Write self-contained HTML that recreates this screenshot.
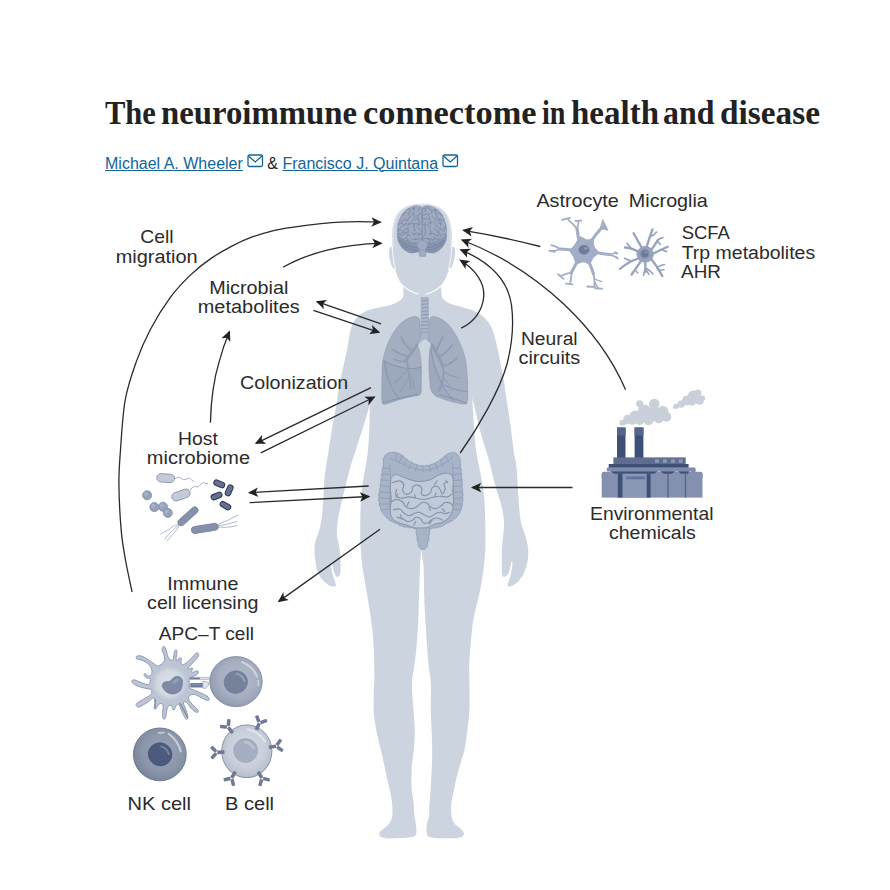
<!DOCTYPE html>
<html>
<head>
<meta charset="utf-8">
<title>The neuroimmune connectome in health and disease</title>
<style>
html,body{margin:0;padding:0;background:#fff;}
body{width:890px;height:890px;position:relative;overflow:hidden;font-family:"Liberation Sans",sans-serif;}
h1{position:absolute;left:105px;top:91.7px;margin:0;font-family:"Liberation Serif",serif;font-weight:bold;font-size:34.5px;line-height:40px;color:#222;white-space:nowrap;width:720px;height:40px;}
h1 span{position:absolute;top:0;transform-origin:0 0;}
.authors{position:absolute;left:105px;top:153.5px;margin:0;font-size:16px;line-height:20px;color:#222;white-space:nowrap;}
.authors a{color:#12659a;text-decoration:underline;text-underline-offset:1px;text-decoration-thickness:1px;}
.authors svg{vertical-align:1px;margin-left:4px;margin-right:-1px;}
svg.fig{position:absolute;left:0;top:0;}
svg.fig text{font-family:"Liberation Sans",sans-serif;font-size:19px;fill:#2b2b2b;}
.arr{fill:none;stroke:#2a2a2a;stroke-width:1.3;}
</style>
</head>
<body>
<h1 id="ttl"><span style="left:-0.3px;transform:scaleX(0.8850)">The</span> <span style="left:56.2px;transform:scaleX(0.9502)">neuroimmune</span> <span style="left:257.9px;transform:scaleX(0.9951)">connectome</span> <span style="left:436.6px;transform:scaleX(0.8165)">in</span> <span style="left:466.1px;transform:scaleX(0.9564)">health</span> <span style="left:558.4px;transform:scaleX(0.9238)">and</span> <span style="left:615.4px;transform:scaleX(0.9662)">disease</span></h1>
<p class="authors"><a>Michael A. Wheeler</a><svg width="17" height="14" viewBox="0 0 17 14"><rect x="1" y="1" width="14.5" height="11.5" rx="1.5" fill="none" stroke="#12659a" stroke-width="1.3"/><path d="M1.5 2 L8.25 8 L15 2" fill="none" stroke="#12659a" stroke-width="1.3"/></svg> &amp; <a>Francisco J. Quintana</a><svg width="17" height="14" viewBox="0 0 17 14"><rect x="1" y="1" width="14.5" height="11.5" rx="1.5" fill="none" stroke="#12659a" stroke-width="1.3"/><path d="M1.5 2 L8.25 8 L15 2" fill="none" stroke="#12659a" stroke-width="1.3"/></svg></p>

<svg class="fig" width="890" height="890" viewBox="0 0 890 890">
<defs>
<marker id="ah" viewBox="-10 -5 11 10" refX="-1" refY="0" markerWidth="11" markerHeight="10" markerUnits="userSpaceOnUse" orient="auto">
<path d="M0.3 0 L-10 -4.8 L-7.4 0 L-10 4.8 Z" fill="#222"/>
</marker>
<radialGradient id="gT" cx="0.55" cy="0.45" r="0.6"><stop offset="0" stop-color="#b3bbca"/><stop offset="0.6" stop-color="#a6afc0"/><stop offset="0.85" stop-color="#98a2b5"/><stop offset="1" stop-color="#8791a7"/></radialGradient>
<radialGradient id="gNK" cx="0.55" cy="0.45" r="0.6"><stop offset="0" stop-color="#99a3b6"/><stop offset="0.6" stop-color="#8d97ab"/><stop offset="0.85" stop-color="#808aa0"/><stop offset="1" stop-color="#727c93"/></radialGradient>
<radialGradient id="gB" cx="0.5" cy="0.45" r="0.6"><stop offset="0" stop-color="#d6dbe4"/><stop offset="0.6" stop-color="#c9cfda"/><stop offset="0.85" stop-color="#bac2cf"/><stop offset="1" stop-color="#a9b1c1"/></radialGradient>
<radialGradient id="gA" cx="0.5" cy="0.45" r="0.6"><stop offset="0" stop-color="#dde2ea"/><stop offset="0.7" stop-color="#c9d1dd"/><stop offset="1" stop-color="#b4bece"/></radialGradient>
<radialGradient id="gA2" cx="0.5" cy="0.5" r="0.5"><stop offset="0" stop-color="#dce1e9"/><stop offset="0.7" stop-color="#d3d9e3"/><stop offset="1" stop-color="#bcc5d3"/></radialGradient>
</defs>

<!-- BODY -->
<g id="body"><path id="bodyp" d="M421.9 203.7
C412 203.5 403 206.5 398.4 212.3 C394.5 217 392.2 226 392.2 235.8 L392.5 246.9
C391 246.5 389.8 247 389.3 249 C388.5 252 389.2 259 391 264.2 C392 267 393.5 268.8 394.7 268.5
C395.5 271 396 273 396.6 274.1 C398 278 399.5 281 400.9 282.8 L403.4 285.9
L403.4 291.4 C403.4 295 403.4 296.5 402.8 297.6 C400 301.5 394 304.5 388.5 305.6
L374.6 308.4 C369 309.6 365 311 361.7 313.6 C357 317 354 320.5 352.6 323.9 C350.5 328.5 349.5 334 348.8 339.4
C347.5 348 345.5 357 343.6 365.3 L339.7 382.7
C338.8 388 338 394 337.2 400 C336 407 334.8 414 333.5 420 C331.5 431 330 442 328.7 450 C327.6 458 326.8 462 326.3 464.9 C325.5 470 324.7 475 324.3 480
C323.8 492 323.2 503 322.2 513.7 C321.6 520 320.5 526 318.9 531.2 L315.5 540.6
C314.3 545 314.3 550 314.8 555.5 C315.2 560 315.8 565 316.8 569 C318.5 574.5 320.5 578 323.6 581
C326.5 584 329.5 586 332.3 586.5 C335.3 587 336.5 585.8 335.7 583.8 C335 581.5 334 578.5 333 575.7
C332 572.5 331.3 569.5 331 566.3 L331.7 560.9
C332.5 566 333.5 571 335 574.3 C336 576.5 337.4 577.3 338.4 576.8 C339.8 576 340.3 574 340.4 571.6
C340.8 564 340.6 557 339.8 550 C339.2 545 338 541 337 536.6
C336.5 529 337.5 521 339.1 513.7 C340.5 507 342 500 343.5 494 L346.5 482
C349 471 352 461 355.5 451 C360 437 365.5 420 369.6 405
C369.9 420 369.3 435 368 450 C366.5 463 364.5 472 363.3 480
C361.5 490 360.8 499 360.6 507 C360.3 516 360.1 525 360.2 534 C360.2 539 360.4 544 360.7 549
C361 555 361.7 561 362.5 567 C363.7 576 365.3 585 367 594 C369 606 371 618 372.4 630
C373.5 642 374.2 654 374.2 666 L374.4 677.6
C373.8 690 373.3 702 373.8 712.7 C374.8 726 378 739 381 750.7 C383.5 761 385.5 771 387.3 780 C388.5 785 389.5 789 390.4 792.4
C391.3 797 392 801 392.2 804.7 C392.5 809 392.6 813 392.2 817.1 C391.5 820 390 822.5 388.5 824.5 C386 827.5 383 829 381.1 830.7 C379.5 832 379 833.3 379.3 834.4 C379.8 836 380.8 837 382.4 837.5 C386 838.6 391 838.5 394.7 838.3
C401 838.2 407 838 412 837.1 C414.5 836.5 416.2 835 416.4 833.2 C416.6 830 416.2 826.5 415.7 823.3 C415.2 819 414.3 815 413.9 810.9 L413.9 804.7
C413.5 800.5 412.6 796.5 412 792.4 C411.6 788 411.4 784 411.4 780 C411.4 775 411.6 770 411.8 765.3 C413.3 755 414.5 745 414.7 736
C414.8 726 414 716 413.3 706.9 C412.5 698 411.9 691 411.9 682 C412.3 677 413 673 413.7 669.4
C415 662 415.8 655 416.4 648 C417.2 639 417.8 630 418.2 621 C418.6 612 418.9 603 419.1 594
C419.4 585 419.7 576 420 567 C420.3 560 420.8 554 421.3 549.5
C421.8 554 422.9 560 423.6 567 C423.9 576 424 585 424.1 594 C424.4 603 424.9 612 425.4 621
C425.9 630 426.5 639 427.2 648 C427.7 655 428.3 662 429 669.4 C429.8 673 430.5 677 430.8 682
C431.3 691 430.6 702 430.8 712.7 C431.3 726 432.3 740 432.2 753.6 C432.1 762 431.7 771 431.2 780 C430.9 786 430.4 792 430 798.5
C429.7 802 429.3 805 429.1 808.4 L429.3 814.6 C428.8 817.5 427.8 820.5 427.1 823.3 C426.5 826 426.3 829 426.6 831.9 C426.8 834.5 427.8 836 429.3 836.9
C433 838 439 838.3 444.2 838.3 C450 838.4 456 838.2 460.2 837.5 C462.8 836.8 464 835.5 463.9 833.8 C463.8 832 462.8 830.5 461.5 829.4
C459.5 827.5 457 826 455.3 824.5 C453.5 822.5 452.2 820 451.6 817.1 C451 813 451 809 451.3 804.7 C451.8 799.5 452.8 794.5 454 789.9 L455.9 780 C458.5 770 461.5 760 464.4 750.7
C466.5 737 469 722 469.6 706.9 C469.8 693 469.2 680 469.1 665.8 C469.3 660 469.7 654 470.3 648
C471 639 472 630 473 621 C474.8 612 477 603 479.3 594 C481.2 585 482.7 576 483.8 567
C484.5 561 485 555 485.3 549 C485.5 542 485.5 534 485.3 527.2
C485.2 518 485 509 484.4 500.2 C483.8 493 482.7 486 481.7 480
C480 470 477.5 460 476 450 C474.5 435 473 415 472.3 398
L474 404 C476.5 416 481 436 486 450 C489 460 491.5 470 493.8 480
C495.5 487 498 494 499.9 500.2 C502 507 503.5 514 503.9 520.4 C504.3 527 503.5 534 502.6 540.6
C501.8 547 501.7 554 501.9 560.9 L501.9 573 C502 575.5 503 577.3 504.6 576.8 C506.5 576.2 507.8 575 508.6 573
C510 569.5 510.8 566 511.3 562.2 L512.5 560.9 C512.5 566 511.5 572 510 577 C509.3 579.5 508.5 581.5 508 583.8
C507.4 586 508.3 587.2 510 586.5 C513 585.8 516 584 518.7 581 C522 577.5 524.5 573 526.1 567.6
C527.8 562 528.6 556 528.2 550.1 C527.9 546 527.2 542 526.1 538 L521.4 524.5
C519.8 517 519.2 508 518.7 500.2 C518.2 493 517.8 487 517.4 480
C517 470 516.3 462 514 454.2 C512.5 440 510 420 506.6 400.2 C505.6 394 504.9 388 504.3 382.7 L500.6 364.2
C499.5 358 498.3 351.5 496.9 345.6 C495.8 340.5 494.6 336 493.2 332 C491.8 328 490.2 325 488.2 322.1 C486.2 319.3 483.8 317 480.8 314.7
C478 312.6 474.5 311 470.9 309.8 L456.5 305.6 C450 304.2 444.5 301.5 442.3 297.6
C441.6 296.5 441.4 295 441.4 291.4 L441 285.9 L442.9 282.8
C444.3 281 446 278 447.3 274.1 C448 273 448.5 271 449.1 268.5 C450.5 268.8 451.8 267 452.8 264.2
C454.8 259 455.6 252 454.8 249 C454.3 247 453 246.5 451.6 246.9 L451.8 235.8
C451.8 226 449.5 217 445.4 212.3 C441 206.5 432 203.5 421.9 203.7 Z" fill="#ccd5df"/></g>
<clipPath id="bclip"><path d="M421.9 203.7
C412 203.5 403 206.5 398.4 212.3 C394.5 217 392.2 226 392.2 235.8 L392.5 246.9
C391 246.5 389.8 247 389.3 249 C388.5 252 389.2 259 391 264.2 C392 267 393.5 268.8 394.7 268.5
C395.5 271 396 273 396.6 274.1 C398 278 399.5 281 400.9 282.8 L403.4 285.9
L403.4 291.4 C403.4 295 403.4 296.5 402.8 297.6 C400 301.5 394 304.5 388.5 305.6
L374.6 308.4 C369 309.6 365 311 361.7 313.6 C357 317 354 320.5 352.6 323.9 C350.5 328.5 349.5 334 348.8 339.4
C347.5 348 345.5 357 343.6 365.3 L339.7 382.7
C338.8 388 338 394 337.2 400 C336 407 334.8 414 333.5 420 C331.5 431 330 442 328.7 450 C327.6 458 326.8 462 326.3 464.9 C325.5 470 324.7 475 324.3 480
C323.8 492 323.2 503 322.2 513.7 C321.6 520 320.5 526 318.9 531.2 L315.5 540.6
C314.3 545 314.3 550 314.8 555.5 C315.2 560 315.8 565 316.8 569 C318.5 574.5 320.5 578 323.6 581
C326.5 584 329.5 586 332.3 586.5 C335.3 587 336.5 585.8 335.7 583.8 C335 581.5 334 578.5 333 575.7
C332 572.5 331.3 569.5 331 566.3 L331.7 560.9
C332.5 566 333.5 571 335 574.3 C336 576.5 337.4 577.3 338.4 576.8 C339.8 576 340.3 574 340.4 571.6
C340.8 564 340.6 557 339.8 550 C339.2 545 338 541 337 536.6
C336.5 529 337.5 521 339.1 513.7 C340.5 507 342 500 343.5 494 L346.5 482
C349 471 352 461 355.5 451 C360 437 365.5 420 369.6 405
C369.9 420 369.3 435 368 450 C366.5 463 364.5 472 363.3 480
C361.5 490 360.8 499 360.6 507 C360.3 516 360.1 525 360.2 534 C360.2 539 360.4 544 360.7 549
C361 555 361.7 561 362.5 567 C363.7 576 365.3 585 367 594 C369 606 371 618 372.4 630
C373.5 642 374.2 654 374.2 666 L374.4 677.6
C373.8 690 373.3 702 373.8 712.7 C374.8 726 378 739 381 750.7 C383.5 761 385.5 771 387.3 780 C388.5 785 389.5 789 390.4 792.4
C391.3 797 392 801 392.2 804.7 C392.5 809 392.6 813 392.2 817.1 C391.5 820 390 822.5 388.5 824.5 C386 827.5 383 829 381.1 830.7 C379.5 832 379 833.3 379.3 834.4 C379.8 836 380.8 837 382.4 837.5 C386 838.6 391 838.5 394.7 838.3
C401 838.2 407 838 412 837.1 C414.5 836.5 416.2 835 416.4 833.2 C416.6 830 416.2 826.5 415.7 823.3 C415.2 819 414.3 815 413.9 810.9 L413.9 804.7
C413.5 800.5 412.6 796.5 412 792.4 C411.6 788 411.4 784 411.4 780 C411.4 775 411.6 770 411.8 765.3 C413.3 755 414.5 745 414.7 736
C414.8 726 414 716 413.3 706.9 C412.5 698 411.9 691 411.9 682 C412.3 677 413 673 413.7 669.4
C415 662 415.8 655 416.4 648 C417.2 639 417.8 630 418.2 621 C418.6 612 418.9 603 419.1 594
C419.4 585 419.7 576 420 567 C420.3 560 420.8 554 421.3 549.5
C421.8 554 422.9 560 423.6 567 C423.9 576 424 585 424.1 594 C424.4 603 424.9 612 425.4 621
C425.9 630 426.5 639 427.2 648 C427.7 655 428.3 662 429 669.4 C429.8 673 430.5 677 430.8 682
C431.3 691 430.6 702 430.8 712.7 C431.3 726 432.3 740 432.2 753.6 C432.1 762 431.7 771 431.2 780 C430.9 786 430.4 792 430 798.5
C429.7 802 429.3 805 429.1 808.4 L429.3 814.6 C428.8 817.5 427.8 820.5 427.1 823.3 C426.5 826 426.3 829 426.6 831.9 C426.8 834.5 427.8 836 429.3 836.9
C433 838 439 838.3 444.2 838.3 C450 838.4 456 838.2 460.2 837.5 C462.8 836.8 464 835.5 463.9 833.8 C463.8 832 462.8 830.5 461.5 829.4
C459.5 827.5 457 826 455.3 824.5 C453.5 822.5 452.2 820 451.6 817.1 C451 813 451 809 451.3 804.7 C451.8 799.5 452.8 794.5 454 789.9 L455.9 780 C458.5 770 461.5 760 464.4 750.7
C466.5 737 469 722 469.6 706.9 C469.8 693 469.2 680 469.1 665.8 C469.3 660 469.7 654 470.3 648
C471 639 472 630 473 621 C474.8 612 477 603 479.3 594 C481.2 585 482.7 576 483.8 567
C484.5 561 485 555 485.3 549 C485.5 542 485.5 534 485.3 527.2
C485.2 518 485 509 484.4 500.2 C483.8 493 482.7 486 481.7 480
C480 470 477.5 460 476 450 C474.5 435 473 415 472.3 398
L474 404 C476.5 416 481 436 486 450 C489 460 491.5 470 493.8 480
C495.5 487 498 494 499.9 500.2 C502 507 503.5 514 503.9 520.4 C504.3 527 503.5 534 502.6 540.6
C501.8 547 501.7 554 501.9 560.9 L501.9 573 C502 575.5 503 577.3 504.6 576.8 C506.5 576.2 507.8 575 508.6 573
C510 569.5 510.8 566 511.3 562.2 L512.5 560.9 C512.5 566 511.5 572 510 577 C509.3 579.5 508.5 581.5 508 583.8
C507.4 586 508.3 587.2 510 586.5 C513 585.8 516 584 518.7 581 C522 577.5 524.5 573 526.1 567.6
C527.8 562 528.6 556 528.2 550.1 C527.9 546 527.2 542 526.1 538 L521.4 524.5
C519.8 517 519.2 508 518.7 500.2 C518.2 493 517.8 487 517.4 480
C517 470 516.3 462 514 454.2 C512.5 440 510 420 506.6 400.2 C505.6 394 504.9 388 504.3 382.7 L500.6 364.2
C499.5 358 498.3 351.5 496.9 345.6 C495.8 340.5 494.6 336 493.2 332 C491.8 328 490.2 325 488.2 322.1 C486.2 319.3 483.8 317 480.8 314.7
C478 312.6 474.5 311 470.9 309.8 L456.5 305.6 C450 304.2 444.5 301.5 442.3 297.6
C441.6 296.5 441.4 295 441.4 291.4 L441 285.9 L442.9 282.8
C444.3 281 446 278 447.3 274.1 C448 273 448.5 271 449.1 268.5 C450.5 268.8 451.8 267 452.8 264.2
C454.8 259 455.6 252 454.8 249 C454.3 247 453 246.5 451.6 246.9 L451.8 235.8
C451.8 226 449.5 217 445.4 212.3 C441 206.5 432 203.5 421.9 203.7 Z"/></clipPath>
<g clip-path="url(#bclip)" fill="none" stroke="#e0e5ec" stroke-width="3"><path d="M392.5 247 L392.2 235.8 C392.2 226 394.5 217 398.4 212.3 C403 206.5 412 203.5 421.9 203.7 C432 203.5 441 206.5 445.4 212.3 C449.5 217 451.8 226 451.8 235.8 L451.6 247" opacity="0.75"/></g>
<!-- chin line -->
<path d="M403.2 285.6 C407 289.5 412 292.6 418.2 294" fill="none" stroke="#fff" stroke-width="1.1" stroke-linecap="round"/>
<path d="M441.2 285.6 C437.5 289.5 432 292.6 425.8 294" fill="none" stroke="#fff" stroke-width="1.1" stroke-linecap="round"/>

<path d="M392.3 246.5 C392.6 255 393.6 263 395.6 269" fill="none" stroke="#fff" stroke-width="0.9" stroke-linecap="round" opacity="0.9"/>
<path d="M451.7 246.5 C451.4 255 450.4 263 448.4 269" fill="none" stroke="#fff" stroke-width="0.9" stroke-linecap="round" opacity="0.9"/>
<!-- ORGANS -->
<g id="organs">
<g id="brain">
<!-- cerebellum -->
<path d="M397.3 234 C396.8 238 397.5 242 400.2 245.5 C402 248.5 405 251 408 252.5 C411 253.8 415 253.6 418.5 252 L425.5 252 C429 253.6 433 253.8 436 252.5 C439 251 442 248.5 443.8 245.5 C446.5 242 447.2 238 446.7 234 Z" fill="#8794ae"/>
<path d="M399 240 C405 245 412 247.5 419 248 M400.5 243.5 C405 247.5 411 250 418 250.5 M445 240 C439 245 432 247.5 425 248 M443.5 243.5 C439 247.5 433 250 426 250.5" fill="none" stroke="#6f7f9c" stroke-width="0.7"/>
<!-- cerebrum -->
<path d="M422 208 C420.5 206 417.5 205.4 414.5 206 C409.5 207 404.5 210.5 401.5 215.5 C398.8 220 397.4 226 397.3 231.5 C397.3 234 398.3 236 400.5 237.8 C405 241 411 242.6 416 242.8 C419 242.8 421 242.4 422 241.6 C423 242.4 425 242.8 428 242.8 C433 242.6 439 241 443.5 237.8 C445.7 236 446.7 234 446.7 231.5 C446.6 226 445.2 220 442.5 215.5 C439.5 210.5 434.5 207 429.5 206 C426.5 205.4 423.5 206 422 208 Z" fill="#9eaabf" stroke="#8492ac" stroke-width="0.6"/>
<!-- sulci -->
<clipPath id="cbr"><path d="M422 208 C420.5 206 417.5 205.4 414.5 206 C409.5 207 404.5 210.5 401.5 215.5 C398.8 220 397.4 226 397.3 231.5 C397.3 234 398.3 236 400.5 237.8 C405 241 411 242.6 416 242.8 C419 242.8 421 242.4 422 241.6 C423 242.4 425 242.8 428 242.8 C433 242.6 439 241 443.5 237.8 C445.7 236 446.7 234 446.7 231.5 C446.6 226 445.2 220 442.5 215.5 C439.5 210.5 434.5 207 429.5 206 C426.5 205.4 423.5 206 422 208 Z"/></clipPath>
<g clip-path="url(#cbr)" fill="none" stroke="#7f8da8" stroke-width="1" stroke-linecap="round" stroke-linejoin="round">
<path d="M422 207 L422.3 243" stroke-width="1.1"/>
<path d="M420.1 206.8 C418.6 207.3 419.6 210.4 418.0 210.8"/>
<path d="M414.1 206.4 C412.9 207.5 415.1 209.8 414.0 210.9"/>
<path d="M414.0 208.6 L412.2 208.6"/>
<path d="M408.7 205.4 C407.5 207.4 411.5 209.9 410.3 211.9"/>
<path d="M409.5 208.7 L406.9 209.3"/>
<path d="M407.2 209.3 C405.5 208.0 403.0 211.5 401.3 210.2"/>
<path d="M404.2 209.8 L403.8 207.4"/>
<path d="M400.4 207.5 C398.7 206.9 397.4 210.3 395.7 209.7"/>
<path d="M398.0 208.6 L397.1 206.7"/>
<path d="M421.5 212.8 C419.8 212.4 419.1 215.8 417.4 215.5"/>
<path d="M413.9 212.0 C412.6 212.9 414.5 215.5 413.2 216.5"/>
<path d="M413.6 214.2 L411.8 214.0"/>
<path d="M408.7 212.3 C407.7 213.9 410.9 215.8 409.9 217.4"/>
<path d="M406.4 212.2 C404.2 211.9 403.6 216.3 401.3 216.0"/>
<path d="M403.9 214.1 L402.3 212.1"/>
<path d="M401.7 213.3 C399.6 212.4 397.8 216.7 395.7 215.8"/>
<path d="M398.7 214.6 L397.7 212.2"/>
<path d="M417.2 215.6 C416.0 217.6 420.0 219.9 418.9 221.9"/>
<path d="M418.0 218.7 L415.5 219.4"/>
<path d="M415.5 215.8 C413.2 216.3 414.4 220.8 412.2 221.4"/>
<path d="M409.9 216.6 C407.8 217.0 408.6 221.2 406.5 221.6"/>
<path d="M406.7 219.7 C405.0 218.5 402.7 221.8 401.0 220.7"/>
<path d="M401.1 216.7 C398.7 217.5 400.3 222.3 397.9 223.1"/>
<path d="M420.3 222.3 C418.7 222.7 419.5 225.8 418.0 226.2"/>
<path d="M419.1 224.3 L417.6 223.4"/>
<path d="M411.1 223.1 C412.4 225.0 416.2 222.4 417.6 224.3"/>
<path d="M414.3 223.7 L413.8 226.3"/>
<path d="M411.3 223.4 C409.8 222.8 408.6 225.8 407.1 225.2"/>
<path d="M409.2 224.3 L408.5 222.6"/>
<path d="M406.6 223.4 C404.2 222.9 403.2 227.6 400.8 227.1"/>
<path d="M403.7 225.3 L402.3 223.0"/>
<path d="M402.2 223.0 C400.0 221.9 397.9 226.5 395.6 225.5"/>
<path d="M398.9 224.2 L397.9 221.6"/>
<path d="M417.2 227.0 C417.3 229.1 421.4 228.9 421.5 230.9"/>
<path d="M413.5 225.9 C412.5 227.5 415.8 229.5 414.9 231.1"/>
<path d="M408.2 226.8 C406.6 228.3 409.5 231.5 407.9 232.9"/>
<path d="M407.2 228.1 C404.7 227.9 404.3 232.7 401.9 232.5"/>
<path d="M396.0 228.3 C397.0 230.3 400.9 228.3 401.9 230.3"/>
<path d="M399.0 229.3 L398.2 231.6"/>
<path d="M417.2 232.6 C417.7 234.4 421.3 233.4 421.8 235.2"/>
<path d="M419.5 233.9 L418.4 235.8"/>
<path d="M412.0 233.0 C412.9 234.7 416.3 232.9 417.2 234.7"/>
<path d="M414.6 233.8 L413.9 235.9"/>
<path d="M405.9 233.6 C406.5 235.3 409.9 234.2 410.5 235.9"/>
<path d="M408.2 234.7 L407.3 236.6"/>
<path d="M407.2 232.1 C404.8 231.3 403.2 236.2 400.8 235.4"/>
<path d="M404.0 233.7 L402.7 231.2"/>
<path d="M396.3 232.8 C397.1 234.5 400.5 232.8 401.4 234.5"/>
<path d="M398.8 233.7 L398.1 235.7"/>
<path d="M414.8 238.6 C416.4 240.5 420.2 237.2 421.8 239.1"/>
<path d="M411.4 239.3 C412.8 240.9 416.0 238.2 417.3 239.8"/>
<path d="M406.4 237.9 C406.3 239.8 410.1 240.0 410.1 241.9"/>
<path d="M408.2 239.9 L406.6 241.4"/>
<path d="M405.4 237.9 C403.5 237.7 403.2 241.4 401.3 241.3"/>
<path d="M403.4 239.6 L402.0 237.9"/>
<path d="M401.3 239.0 C399.0 238.2 397.6 242.7 395.3 242.0"/>
<path d="M425.7 206.3 C424.3 207.5 426.9 210.4 425.4 211.6"/>
<path d="M425.6 209.0 L423.4 208.8"/>
<path d="M427.3 206.8 C427.2 209.0 431.7 209.1 431.6 211.4"/>
<path d="M438.7 210.2 C436.8 208.5 433.4 212.2 431.6 210.5"/>
<path d="M435.1 210.4 L435.0 207.5"/>
<path d="M437.7 207.5 C438.0 209.2 441.5 208.7 441.8 210.4"/>
<path d="M445.6 207.1 C444.2 208.7 447.5 211.6 446.0 213.3"/>
<path d="M427.7 213.9 C425.7 212.8 423.4 216.9 421.4 215.7"/>
<path d="M432.3 212.2 C430.4 212.0 429.9 215.7 428.1 215.5"/>
<path d="M434.9 210.9 C433.7 213.2 438.2 215.4 437.0 217.6"/>
<path d="M436.6 212.2 C437.3 214.5 442.0 213.0 442.8 215.3"/>
<path d="M447.7 215.0 C446.1 213.5 443.2 216.8 441.5 215.3"/>
<path d="M444.6 215.2 L444.5 212.7"/>
<path d="M421.7 218.6 C423.4 220.5 427.1 217.1 428.8 218.9"/>
<path d="M429.5 217.0 C428.2 219.0 432.3 221.7 430.9 223.7"/>
<path d="M433.2 217.0 C433.0 218.8 436.5 219.2 436.3 221.0"/>
<path d="M436.6 217.9 C437.5 220.2 442.1 218.4 443.0 220.7"/>
<path d="M439.8 219.3 L438.7 221.9"/>
<path d="M447.8 218.8 C446.1 217.9 444.2 221.4 442.5 220.5"/>
<path d="M425.4 222.3 C424.2 223.4 426.2 225.8 425.0 226.8"/>
<path d="M425.2 224.6 L423.4 224.4"/>
<path d="M431.7 222.1 C430.0 221.8 429.4 225.2 427.7 224.9"/>
<path d="M429.7 223.5 L428.5 221.9"/>
<path d="M434.0 222.1 C433.6 224.1 437.6 225.1 437.1 227.1"/>
<path d="M441.1 221.2 C439.6 222.2 441.7 225.2 440.2 226.2"/>
<path d="M440.7 223.7 L438.7 223.3"/>
<path d="M446.3 221.3 C444.3 222.6 446.9 226.4 445.0 227.7"/>
<path d="M425.2 226.8 C423.7 228.2 426.5 231.2 425.1 232.6"/>
<path d="M429.9 226.1 C428.2 227.9 432.0 231.2 430.4 233.1"/>
<path d="M433.8 228.2 C433.7 230.3 437.9 230.4 437.8 232.6"/>
<path d="M438.1 227.7 C438.9 229.6 442.6 228.0 443.4 229.8"/>
<path d="M440.7 228.8 L439.9 230.9"/>
<path d="M446.5 225.8 C444.2 226.4 445.4 230.9 443.1 231.5"/>
<path d="M425.8 232.8 C424.2 233.3 425.1 236.6 423.5 237.0"/>
<path d="M433.7 233.5 C432.1 232.4 429.8 235.5 428.2 234.3"/>
<path d="M430.9 233.9 L430.6 231.8"/>
<path d="M433.5 233.8 C434.1 235.7 437.9 234.6 438.4 236.5"/>
<path d="M438.2 231.2 C437.7 233.4 442.2 234.4 441.7 236.6"/>
<path d="M439.9 233.9 L437.8 235.3"/>
<path d="M442.6 234.2 C443.9 235.6 446.7 233.1 447.9 234.5"/>
<path d="M428.5 238.5 C426.8 236.9 423.6 240.4 421.9 238.8"/>
<path d="M426.3 238.6 C427.7 240.5 431.4 237.6 432.8 239.4"/>
<path d="M429.6 239.0 L429.2 241.6"/>
<path d="M437.8 238.4 C435.8 237.3 433.5 241.4 431.4 240.3"/>
<path d="M434.6 239.3 L433.9 236.8"/>
<path d="M440.3 237.2 C438.4 238.4 440.8 242.2 438.9 243.4"/>
<path d="M439.6 240.3 L437.2 239.8"/>
<path d="M444.0 237.6 C443.1 239.0 445.9 240.7 445.0 242.1"/>
</g>
<!-- pons + stem -->
<rect x="419.2" y="247" width="6.6" height="9.4" rx="1" fill="#9eabc1" stroke="#7f8eaa" stroke-width="0.5"/>
<ellipse cx="422.2" cy="245.2" rx="5.2" ry="4.6" fill="#9eabc1" stroke="#7f8eaa" stroke-width="0.5"/>
</g>
<g id="lungs">
<!-- trachea -->
<path d="M421.3 297.7 L428.3 297.7 L428.6 334 C429.5 337 431 339 433.5 341.5 L431.5 344 C429 341.5 426.5 339.5 424.8 338.5 C423 339.5 420 342 417.5 345 L415.5 342.5 C418 339.5 420 337 421 334 Z" fill="#aab5c8" stroke="#8d9bb4" stroke-width="0.5"/>
<g fill="none" stroke="#8795ae" stroke-width="0.8">
<path d="M421.5 301 L428.3 300.3 M421.5 304.5 L428.3 303.8 M421.5 308 L428.3 307.3 M421.5 311.5 L428.3 310.8 M421.5 315 L428.4 314.3 M421.4 318.5 L428.4 317.8 M421.4 322 L428.5 321.3 M421.3 325.5 L428.5 324.8 M421.3 329 L428.5 328.3 M421.2 332.5 L428.6 331.8"/>
</g>
<!-- left lung (viewer) -->
<path d="M413.5 316.7 C416.5 316 419.5 317.5 419.9 320.5 L420.6 336.3 C419.5 339.5 417.5 342.5 416.3 344.8 C417.8 346.5 419 348 419.3 350.5 C420.5 356 421.3 362 421.3 368.7 L421.2 390 C421.2 393 420.5 394.8 419 395.3 C410 396.5 401 399 392 402 C389 403.2 386 404.2 383.8 404.3 C382.6 404.3 382.1 403 382 401 C381.6 396 381.7 392 381.9 388.3 C381.9 379 382 371 382.6 363 C383.5 357 385 351.5 386.9 346.2 C389.5 339 393.5 332 398 326.5 C402.5 321 408 317.5 413.5 316.7 Z" fill="#a3aec1" stroke="#8f9cb4" stroke-width="0.7"/>
<!-- right lung (viewer) -->
<path d="M434.6 316.7 C431.6 316 429.8 317.5 429.7 320.5 L429 337.8 C429.8 340.5 431 343 431.8 344.8 C430.5 346.5 429.8 348.5 429.7 350.4 C429.2 356 429 362 429 368.7 C429.3 375 429.8 382 430.4 388.3 C431.3 392 433.5 395 437.4 396.7 C444 399.5 452 402 460 403.5 C463 404.1 465.2 404.3 466.2 403.8 C467.4 403 467.5 401 467.5 399 C467.8 395 467.7 392 467.6 388.3 C467.5 379 466.8 369 465.5 360.2 C464.2 354 462.3 348.5 459.9 343.4 C457 336.5 453 330 448.7 325 C444.5 320.5 439.5 317.5 434.6 316.7 Z" fill="#a3aec1" stroke="#8f9cb4" stroke-width="0.7"/>
<path d="M383 360.5 C390 364.5 399 367.5 408 368.5 C413 369 417.5 368.3 421.2 367 L421.2 390 C421.2 393 420.5 394.8 419 395.3 C410 396.5 401 399 392 402 C389 403.2 386 404.2 383.8 404.3 C382.6 404.3 382.1 403 382 401 C381.6 390 381.8 375 383 360.5 Z" fill="#8f9cb4" opacity="0.3"/>
<path d="M431 349 C432 360 436 372 441 382 C445 390 449 396 453.5 400.5 L437.4 396.7 C433.5 395 431.3 392 430.4 388.3 C429.5 378 428.8 362 429.7 350.4 Z" fill="#8f9cb4" opacity="0.25"/>
<!-- lobes / fissures -->
<g fill="none" stroke="#7f8eaa" stroke-width="0.8" stroke-linecap="round">
<path d="M383 360.5 C390 364.5 399 367.5 408 368.5 C413 369 417.5 368.3 421.2 367"/>
<path d="M384.5 362 C386 375 390 388 399 399"/>
<path d="M383.3 402.5 C394 399.5 405 396.5 418 394"/>
<path d="M431 349 C432 360 436 372 441 382 C445 390 449 396 453.5 400.5"/>
<path d="M444 385 C451 388.5 459 391 467 391.5"/>
<path d="M466.5 403 C458 400 449 397 440 395"/>
</g>
<!-- bronchi -->
<g fill="none" stroke="#8d9ab2" stroke-linecap="round" opacity="0.85">
<path d="M417 345 C413 351 409 356 405.5 361" stroke-width="3"/>
<path d="M412.5 351 C408 348 404 343 401 337" stroke-width="1.8"/>
<path d="M409 356.5 C403 355 397 353 393 350" stroke-width="1.8"/>
<path d="M405.5 361 C401 362 397 361 393.5 359" stroke-width="1.5"/>
<path d="M407 360 C408 370 409.5 380 411 388" stroke-width="1.8"/>
<path d="M408 369 C404 374 399 379 395 383" stroke-width="1.2"/>
<path d="M409.5 378 C406 382 403 386 401 391" stroke-width="1"/>
<path d="M408.5 372 C412 377 414 383 415 389" stroke-width="1"/>
<path d="M432 345 C436 352 440 359 443 366" stroke-width="3"/>
<path d="M436 351 C438 346 441 341 443 336" stroke-width="1.8"/>
<path d="M439 357 C444 354 449 350 452 345" stroke-width="1.8"/>
<path d="M443 366 C448 365 453 362 457 358" stroke-width="1.5"/>
<path d="M443 366 C444 374 443 382 440 390" stroke-width="1.8"/>
<path d="M444 372 C449 375 454 377 459 378" stroke-width="1.2"/>
<path d="M443.5 378 C447 382 450 386 452 390" stroke-width="1"/>
<path d="M442 381 C440 385 439 388 438.5 391" stroke-width="1"/>
</g>
</g>
<g id="gut">
<path d="M383.5 462.0 Q382.3 459.6 384.0 457.5 Q384.4 454.8 387.0 454.0 Q389.1 451.9 392.0 452.6 Q394.6 451.4 397.0 453.0 Q399.8 452.7 401.5 455.0 Q404.3 455.7 405.0 458.5 Q408.0 458.8 409.5 461.5 Q412.4 461.5 414.0 464.0 Q417.0 463.5 419.0 465.8 Q421.6 464.6 424.0 466.3 Q426.3 464.5 429.0 465.6 Q431.1 463.4 434.0 464.0 Q435.6 461.5 438.5 461.5 Q439.6 458.8 442.5 458.5 Q443.3 455.9 446.0 455.5 Q447.0 453.2 449.5 453.3 Q451.3 451.6 453.5 452.8 Q455.8 452.2 457.0 454.2 Q459.3 455.0 459.3 457.5 Q461.1 459.5 460.0 462.0 Q461.6 464.4 460.3 467.0 Q462.1 469.3 461.0 472.0 Q462.5 474.4 461.2 477.0 Q462.9 479.3 461.8 482.0 Q463.2 484.5 461.8 487.0 Q463.5 489.3 462.4 492.0 Q463.9 494.5 462.5 497.0 Q463.8 499.6 462.3 502.0 Q463.3 504.7 461.5 507.0 Q462.1 509.7 460.0 511.5 Q460.0 514.3 457.5 515.5 Q456.8 518.3 454.0 519.0 Q452.8 521.5 450.0 521.5 Q448.5 523.6 446.0 523.0 Q445.4 525.4 443.0 525.5 Q440.9 527.6 438.0 527.0 Q435.7 528.8 433.0 527.8 Q431.5 529.6 429.4 528.5 Q430.5 532.4 428.8 536.0 Q429.6 539.8 427.5 543.0 Q428.2 545.9 426.2 548.0 Q425.1 549.9 423.0 549.2 Q420.9 550.0 419.7 548.0 Q417.6 545.9 418.3 543.0 Q416.2 539.8 417.0 536.0 Q415.3 532.3 416.5 528.5 Q413.9 529.4 412.0 527.5 Q409.4 528.7 407.0 527.0 Q404.2 527.9 402.0 526.0 Q398.9 526.0 397.0 523.5 Q394.2 523.8 392.5 521.5 Q389.7 521.5 388.5 519.0 Q386.0 518.5 385.5 516.0 Q382.8 514.9 382.5 512.0 Q380.2 510.3 380.5 507.5 Q378.5 505.3 379.3 502.5 Q377.7 500.1 379.0 497.5 Q377.8 494.9 379.5 492.5 Q378.6 489.7 380.5 487.5 Q379.3 484.9 381.0 482.5 Q380.0 479.8 381.8 477.5 Q380.6 474.9 382.2 472.5 Q381.2 469.8 383.0 467.5 Z" fill="#a7b3c7" stroke="#8997b1" stroke-width="0.7"/>
<!-- colon inner boundary / haustra -->
<g fill="none" stroke="#8a98b2" stroke-width="0.7" stroke-linecap="round">
<path d="M390 458 C400 462 410 469 424 470.5 C438 469 446 463 453 456.5"/>
<path d="M389.5 465 C391 471 390 478 390.5 486 C390 495 389 505 391 515"/>
<path d="M452.5 463 C453.5 472 452.8 482 453.5 492 C454 502 452 511 448 518"/>
<path d="M383 468 L389.5 468.5 M382.3 474 L389.8 474.5 M381.6 480 L390 480.5 M381 486 L390.3 486.5 M380.2 492 L390 492.5 M379.7 498 L389.8 498.5 M379.7 504 L389.8 504 M381 510 L390.3 509"/>
<path d="M460 468 L453 468.5 M460.8 474 L453.2 474.5 M461.3 480 L453.2 480.5 M461.7 486 L453.4 486.5 M462.2 492 L453.6 492.5 M462.3 498 L453.6 498.5 M462 504 L453 504 M460.5 510 L451.5 509"/>
<path d="M397 453.5 L395.5 460.5 M402 455.5 L399.5 462.5 M406.5 459.5 L403.5 466 M411.5 462.8 L408.5 469 M417 465 L415 471 M423 466 L423 472 M429 465.6 L430.5 471.5 M435 463.5 L437.5 469.5 M440.5 460 L443.5 466 M445.5 456 L448.5 462"/>
</g>
<!-- small intestine -->
<path d="M391.3 477.3 C392.2 476.0 393.8 474.5 395.8 474.5 C397.9 474.5 400.8 476.3 403.6 477.3 C406.4 478.3 409.6 479.8 412.6 480.5 C415.7 481.2 418.7 481.6 421.7 481.4 C424.7 481.3 428.1 480.6 430.7 479.6 C433.3 478.7 434.8 476.8 437.2 475.7 C439.6 474.7 442.6 473.3 444.9 473.2 C447.3 473.0 450.0 473.6 451.4 475.0 C452.8 476.3 453.1 478.6 453.3 481.2 C453.5 483.7 452.7 487.2 452.7 490.2 C452.7 493.2 453.5 496.0 453.5 499.3 C453.5 502.5 453.4 506.6 452.7 509.6 C452.0 512.6 450.8 515.2 449.1 517.4 C447.3 519.5 444.8 521.1 442.4 522.3 C439.9 523.4 437.0 523.2 434.6 524.1 C432.2 524.9 430.5 526.8 428.1 527.4 C425.8 528.1 422.8 527.9 420.4 527.9 C418.0 528.0 415.9 528.1 413.9 527.7 C412.0 527.3 410.9 526.4 408.8 525.7 C406.6 525.1 403.4 524.4 401.0 523.6 C398.6 522.7 396.3 522.0 394.5 520.6 C392.8 519.1 391.4 517.0 390.7 514.8 C390.0 512.5 390.3 509.6 390.4 507.0 C390.5 504.4 391.3 502.1 391.3 499.3 C391.3 496.5 390.5 493.0 390.4 490.2 C390.3 487.4 390.5 484.6 390.7 482.5 C390.8 480.3 390.5 478.6 391.3 477.3 Z" fill="#c1cad8" stroke="#8593ad" stroke-width="1"/>
<g fill="none" stroke="#8593ad" stroke-width="1.15" stroke-linecap="round" stroke-linejoin="round">
<path d="M392.6 482.5 C393.8 482.2 397.8 480.5 399.7 480.9 C401.6 481.3 403.4 483.5 403.9 485.1 C404.3 486.6 402.1 488.7 402.6 490.2 C403.0 491.8 404.9 494.1 406.4 494.4 C407.9 494.6 410.5 493.1 411.6 491.8 C412.7 490.5 411.9 487.7 412.9 486.6 C413.9 485.5 416.3 484.7 417.8 485.1 C419.3 485.4 421.4 487.5 421.9 488.9 C422.5 490.3 420.6 492.3 421.2 493.4 C421.8 494.6 424.0 495.8 425.6 495.6 C427.1 495.5 429.6 493.8 430.7 492.4 C431.8 491.1 431.2 488.6 432.3 487.6 C433.4 486.6 435.8 485.9 437.2 486.3 C438.6 486.8 439.6 488.9 440.5 490.2 C441.4 491.5 441.8 494.3 442.6 494.1 C443.4 493.9 445.0 490.7 445.2 488.9 C445.4 487.2 443.5 484.9 443.9 483.8 C444.3 482.6 447.1 482.1 447.8 481.8"/>
<path d="M396.5 489.6 C396.4 490.6 395.1 494.2 395.8 495.6 C396.6 497.1 398.9 498.0 401.0 498.2 C403.2 498.4 406.2 496.9 408.8 496.9 C411.3 496.9 413.9 497.8 416.5 498.2 C419.1 498.7 421.7 499.7 424.3 499.5 C426.8 499.4 429.4 498.0 432.0 497.5 C434.6 496.9 437.2 496.2 439.8 496.2 C442.4 496.1 445.5 497.3 447.5 496.9 C449.5 496.6 451.0 494.6 451.7 494.1"/>
<path d="M391.3 501.8 C392.1 501.4 394.3 499.3 396.1 499.3 C397.9 499.3 400.6 500.5 402.3 501.8 C404.0 503.2 404.7 506.2 406.4 507.3 C408.2 508.4 410.7 508.8 412.6 508.6 C414.6 508.3 416.5 506.7 418.1 505.7 C419.6 504.7 420.5 502.9 421.9 502.5 C423.4 502.1 425.3 502.3 426.8 503.1 C428.4 503.9 429.4 506.4 431.0 507.3 C432.5 508.2 434.4 508.8 436.1 508.6 C437.9 508.3 439.8 506.7 441.3 505.7 C442.8 504.7 443.7 502.9 445.2 502.5 C446.7 502.1 448.8 502.6 450.1 503.1 C451.4 503.7 452.5 505.5 452.9 506.0"/>
<path d="M393.3 509.6 C394.3 509.5 398.0 508.4 399.7 509.0 C401.5 509.5 402.3 512.0 403.9 513.1 C405.4 514.2 407.3 515.6 409.0 515.7 C410.7 515.7 412.5 514.1 414.2 513.5 C415.9 512.9 417.4 511.9 419.1 512.2 C420.8 512.4 422.8 514.2 424.5 515.0 C426.3 515.8 428.0 517.1 429.7 517.0 C431.4 516.8 433.2 514.9 434.9 514.1 C436.5 513.3 438.1 512.2 439.8 512.2 C441.4 512.1 443.3 513.7 444.9 513.7 C446.6 513.7 448.8 512.4 449.6 512.2"/>
<path d="M397.1 517.4 C398.0 517.6 400.5 518.0 402.3 518.6 C404.1 519.3 406.0 521.3 407.7 521.5 C409.5 521.7 411.6 520.6 412.9 519.9 C414.2 519.2 414.2 517.6 415.5 517.4 C416.7 517.1 419.1 517.7 420.4 518.6 C421.7 519.5 421.9 522.1 423.2 522.8 C424.5 523.5 426.6 523.4 428.1 522.8 C429.6 522.2 430.8 520.1 432.3 519.3 C433.8 518.5 435.5 517.8 437.2 518.0 C438.9 518.1 441.7 519.8 442.6 520.2"/>
<path d="M400.4 514.8 L401.7 518.9"/>
<path d="M428.8 507.3 L430.5 510.6"/>
<path d="M442.4 508.6 L444.7 511.9"/>
<path d="M408.8 501.8 L407.2 506.0"/>
<path d="M437.2 480.5 L434.3 484.8"/>
<path d="M447.3 482.7 L445.6 480.1"/>
<path d="M415.9 521.5 L413.7 525.6"/>
<path d="M432.3 520.2 L429.2 524.1"/>
<path d="M397.8 493.8 L396.2 496.9"/>
<path d="M415.5 497.7 L414.6 494.7"/>
<path d="M434.6 496.7 L435.9 493.1"/>
</g>
</g>
</g>

<!-- GLIA -->
<g id="astro" fill="none" stroke="#a1aec5" stroke-linecap="round" stroke-linejoin="round">
<path d="M580.1 244.3 Q577.8 236.5 577.0 228.6" stroke-width="3.2"/>
<path d="M577.0 228.6 Q573.0 223.9 568.3 219.9" stroke-width="1.9"/>
<path d="M577.0 228.6 Q578.5 224.7 578.5 221.5" stroke-width="1.7"/>
<path d="M588.8 244.3 Q595.1 234.9 602.9 226.2" stroke-width="3.0"/>
<path d="M591.9 251.4 Q601.3 253.8 609.2 254.6" stroke-width="3.0"/>
<path d="M609.2 254.6 Q613.1 253.0 616.8 253.0" stroke-width="1.6"/>
<path d="M609.2 254.6 Q613.9 255.7 617.1 257.7" stroke-width="1.6"/>
<path d="M587.2 258.5 Q591.9 267.9 593.5 274.2" stroke-width="3.0"/>
<path d="M593.5 274.2 Q595.1 280.5 594.3 286.5" stroke-width="1.9"/>
<path d="M594.3 278.9 Q598.2 280.5 601.7 281.6" stroke-width="1.5"/>
<path d="M595.1 282.9 Q596.9 286.0 598.5 288.4" stroke-width="1.5"/>
<path d="M578.5 259.3 Q573.8 267.9 571.5 272.6" stroke-width="3.0"/>
<path d="M571.5 272.6 Q571.5 278.1 570.2 282.9" stroke-width="1.9"/>
<path d="M571.5 272.6 Q566.0 273.4 561.2 275.8" stroke-width="1.7"/>
<path d="M575.4 250.6 Q566.7 249.0 560.4 249.0" stroke-width="3.0"/>
<path d="M560.4 249.0 Q555.7 246.2 551.3 245.1" stroke-width="1.7"/>
<path d="M560.4 249.0 Q555.7 250.9 550.7 251.4" stroke-width="1.7"/>
<path d="M562.0 219.9 L569.9 217.9" stroke-width="1.8"/>
<path d="M575.4 221.0 L581.2 220.7" stroke-width="1.8"/>
<path d="M558.1 274.2 L563.6 278.9" stroke-width="1.8"/>
<path d="M566.0 283.7 L572.6 284.4" stroke-width="1.8"/>
<path d="M587.2 286.5 L595.4 287.1" stroke-width="1.8"/>
<path d="M595.1 288.4 L602.1 288.7" stroke-width="1.8"/>
<path d="M549.4 250.6 L554.9 251.9" stroke-width="1.8"/>
<path d="M615.2 252.2 L617.4 253.8" stroke-width="1.8"/>
<path d="M615.5 256.9 L617.6 258.5" stroke-width="1.8"/>
<path d="M602.9 219.9 L608.0 230.2 L600.6 228.6 Z" fill="#a1aec5" stroke-width="1"/>
<path d="M578.9 237.2 Q580.1 235.7 583.7 238.0 Q587.2 240.4 590.7 238.8 Q594.3 237.2 593.9 242.0 Q593.5 246.7 597.0 249.8 Q600.6 253.0 596.6 255.3 Q592.7 257.7 591.5 261.6 Q590.3 265.6 586.8 263.6 Q583.3 261.6 579.3 263.6 Q575.4 265.6 574.6 261.2 Q573.8 256.9 571.1 253.8 Q568.3 250.6 571.1 248.3 Q573.8 245.9 575.8 242.4 Q577.8 238.8 578.9 237.2 Z" fill="#a1aec5" stroke="none"/>
<ellipse cx="584.0" cy="249.8" rx="5.4" ry="4.7" fill="#6d7b99" stroke="#8391ac" stroke-width="0.6"/>
<ellipse cx="585.9" cy="248.3" rx="2" ry="1.4" fill="#8a97b2" stroke="none"/>
</g>
<g id="micro" fill="none" stroke="#95a3bd" stroke-linecap="round" stroke-linejoin="round">
<path d="M646.2 248.3 Q648.5 240.4 652.5 229.4" stroke-width="2.3"/>
<path d="M650.1 236.5 Q654.0 235.7 656.7 232.1" stroke-width="1.6"/>
<path d="M650.9 250.6 Q655.6 243.5 658.0 239.9" stroke-width="2.3"/>
<path d="M658.0 239.9 Q660.3 238.0 663.0 237.6" stroke-width="1.6"/>
<path d="M657.2 241.5 Q659.2 242.8 660.3 244.3" stroke-width="1.6"/>
<path d="M652.5 254.1 Q660.3 249.8 667.7 246.7" stroke-width="2.3"/>
<path d="M661.1 249.5 Q664.3 250.9 666.6 251.6" stroke-width="1.6"/>
<path d="M650.9 258.5 Q657.2 266.3 662.4 276.1" stroke-width="2.3"/>
<path d="M658.0 267.1 Q661.4 264.8 664.6 264.5" stroke-width="1.6"/>
<path d="M659.6 270.3 Q661.9 269.8 664.0 269.8" stroke-width="1.4"/>
<path d="M645.1 260.8 Q645.4 267.9 645.7 271.9" stroke-width="2.3"/>
<path d="M645.4 267.9 Q644.1 271.9 643.5 275.3" stroke-width="1.6"/>
<path d="M645.7 269.5 Q647.8 272.3 648.9 274.5" stroke-width="1.6"/>
<path d="M647.0 268.7 Q650.1 271.1 652.9 273.9" stroke-width="1.6"/>
<path d="M641.5 260.1 Q636.0 268.7 631.6 274.5" stroke-width="2.3"/>
<path d="M635.2 269.8 Q636.7 271.9 637.8 273.0" stroke-width="1.4"/>
<path d="M638.3 258.5 Q628.9 261.3 619.9 269.0" stroke-width="2.3"/>
<path d="M630.5 260.8 Q627.3 259.3 624.6 258.2" stroke-width="1.6"/>
<path d="M639.1 252.2 Q631.2 247.5 624.9 247.5" stroke-width="2.3"/>
<path d="M630.5 247.2 Q628.4 245.1 627.0 243.2" stroke-width="1.6"/>
<path d="M642.2 248.3 Q637.5 240.4 633.6 233.3" stroke-width="2.3"/>
<path d="M641.5 247.8 Q644.6 246.2 647.4 247.0 Q650.1 247.8 651.8 250.4 Q653.6 253.0 652.8 256.1 Q652.0 259.3 649.1 260.8 Q646.2 262.4 643.0 261.6 Q639.9 260.8 638.3 258.1 Q636.7 255.3 637.5 252.3 Q638.3 249.4 641.5 247.8 Z" fill="#95a3bd" stroke="#95a3bd" stroke-width="1.5"/>
<ellipse cx="644.8" cy="253.8" rx="4.1" ry="4.2" fill="#6d7b99" stroke="#8391ac" stroke-width="1.4"/>
<ellipse cx="646.0" cy="252.5" rx="1.5" ry="1.1" fill="#8a97b2" stroke="none"/>
</g>

<!-- BACTERIA / FACTORY -->
<g id="bacteria">
<path d="M175.2 478.5 Q177.9 476.9 179.2 477.3 Q180.6 477.8 181.9 478.8 Q183.3 479.8 184.9 479.5 Q186.6 479.2 188.0 478.5 Q189.3 477.8 190.3 478.7 Q191.3 479.6 193.4 481.4" fill="none" stroke="#8f9cb4" stroke-width="0.8" stroke-linecap="round"/>
<path d="M190.0 489.9 Q192.7 486.6 194.4 486.6 Q196.1 486.6 197.1 486.9 Q198.1 487.2 199.4 485.6 Q200.8 483.9 202.1 483.1 Q203.5 482.3 204.5 482.9 Q205.5 483.6 207.5 483.6" fill="none" stroke="#8f9cb4" stroke-width="0.8" stroke-linecap="round"/>
<path d="M178.5 524.3 Q173.1 525.7 171.1 527.7 Q169.1 529.7 166.7 530.7 Q164.4 531.7 160.7 534.0" fill="none" stroke="#8f9cb4" stroke-width="0.7" stroke-linecap="round"/>
<path d="M178.8 525.0 Q174.5 528.4 172.5 530.7 Q170.4 533.1 168.4 534.8 Q166.4 536.5 164.8 539.4" fill="none" stroke="#8f9cb4" stroke-width="0.7" stroke-linecap="round"/>
<path d="M179.3 525.7 Q176.5 529.7 174.5 532.4 Q172.5 535.1 170.8 536.8 Q169.1 538.5 167.1 540.8" fill="none" stroke="#8f9cb4" stroke-width="0.7" stroke-linecap="round"/>
<path d="M217.9 525.0 Q223.0 521.6 225.1 521.3 Q227.1 521.0 229.8 519.3 Q232.5 517.6 237.9 515.3" fill="none" stroke="#8f9cb4" stroke-width="0.7" stroke-linecap="round"/>
<path d="M218.3 525.9 Q224.4 524.3 226.4 524.3 Q228.4 524.3 230.8 523.3 Q233.1 522.3 236.8 521.6" fill="none" stroke="#8f9cb4" stroke-width="0.7" stroke-linecap="round"/>
<path d="M218.3 527.0 Q224.4 527.7 226.7 527.2 Q229.1 526.8 231.1 526.8 Q233.1 526.8 236.8 525.7" fill="none" stroke="#8f9cb4" stroke-width="0.7" stroke-linecap="round"/>
<rect x="156.8" y="473.9" width="17.8" height="8.4" rx="4.2" transform="rotate(4 165.7 478.1)" fill="#c3cbd9" stroke="#8a98b1" stroke-width="0.9"/>
<rect x="171.5" y="490.8" width="18.9" height="8.4" rx="4.2" transform="rotate(-19 181.0 494.9)" fill="#c3cbd9" stroke="#8a98b1" stroke-width="0.9"/>
<circle cx="147.1" cy="495.3" r="4.5" fill="#96a3ba" stroke="#7f8da8" stroke-width="0.8"/>
<circle cx="145.9" cy="494.1" r="2" fill="#a7b2c6"/>
<circle cx="154.3" cy="507.1" r="4.5" fill="#96a3ba" stroke="#7f8da8" stroke-width="0.8"/>
<circle cx="153.1" cy="505.9" r="2" fill="#a7b2c6"/>
<circle cx="163.0" cy="506.8" r="4.5" fill="#96a3ba" stroke="#7f8da8" stroke-width="0.8"/>
<circle cx="161.8" cy="505.6" r="2" fill="#a7b2c6"/>
<circle cx="167.8" cy="512.9" r="4.5" fill="#96a3ba" stroke="#7f8da8" stroke-width="0.8"/>
<circle cx="166.6" cy="511.7" r="2" fill="#a7b2c6"/>
<rect x="175.5" y="512.9" width="24.9" height="6.7" rx="3.4" transform="rotate(-42 188.0 516.2)" fill="#8591ab" stroke="#74819d" stroke-width="0.8"/>
<rect x="191.3" y="524.9" width="27.0" height="7.0" rx="3.5" transform="rotate(-9 204.8 528.4)" fill="#8591ab" stroke="#74819d" stroke-width="0.8"/>
<rect x="213.6" y="481.2" width="11.3" height="5.4" rx="2.7" transform="rotate(24 219.3 483.9)" fill="#65728f" stroke="#2f3c59" stroke-width="1.1"/>
<rect x="223.4" y="487.7" width="11.3" height="5.4" rx="2.7" transform="rotate(-66 229.1 490.3)" fill="#65728f" stroke="#2f3c59" stroke-width="1.1"/>
<rect x="210.9" y="493.3" width="11.3" height="5.4" rx="2.7" transform="rotate(-22 216.6 496.0)" fill="#65728f" stroke="#2f3c59" stroke-width="1.1"/>
<rect x="219.8" y="503.0" width="11.3" height="5.4" rx="2.7" transform="rotate(30 225.5 505.7)" fill="#65728f" stroke="#2f3c59" stroke-width="1.1"/>
</g>
<g id="factory">
<circle cx="622.4" cy="422.7" r="2.9" fill="#c9d0da"/>
<circle cx="627.7" cy="419.1" r="4.4" fill="#c9d0da"/>
<circle cx="635.3" cy="416.2" r="5.8" fill="#c9d0da"/>
<circle cx="639.7" cy="403.8" r="3.5" fill="#c9d0da"/>
<circle cx="644.3" cy="411.0" r="6.6" fill="#c9d0da"/>
<circle cx="654.3" cy="404.1" r="5.3" fill="#c9d0da"/>
<circle cx="654.3" cy="413.9" r="7.3" fill="#c9d0da"/>
<circle cx="663.0" cy="411.0" r="5.3" fill="#c9d0da"/>
<circle cx="666.2" cy="416.8" r="5.0" fill="#c9d0da"/>
<circle cx="648.4" cy="419.7" r="5.3" fill="#c9d0da"/>
<circle cx="639.7" cy="420.3" r="4.7" fill="#c9d0da"/>
<circle cx="658.7" cy="418.9" r="4.4" fill="#c9d0da"/>
<circle cx="632.4" cy="421.2" r="3.5" fill="#c9d0da"/>
<circle cx="675.9" cy="406.3" r="2.6" fill="#c9d0da"/>
<circle cx="681.3" cy="404.1" r="3.7" fill="#c9d0da"/>
<circle cx="687.1" cy="400.4" r="5.0" fill="#c9d0da"/>
<circle cx="693.4" cy="396.4" r="5.8" fill="#c9d0da"/>
<circle cx="697.7" cy="393.1" r="3.7" fill="#c9d0da"/>
<circle cx="699.6" cy="400.4" r="4.4" fill="#c9d0da"/>
<circle cx="702.2" cy="398.3" r="2.9" fill="#c9d0da"/>
<circle cx="692.2" cy="401.9" r="3.7" fill="#c9d0da"/>
<path d="M619.2 425.6 L622.9 420.2 L638.2 421.6 L640.4 425.0 L633.8 422.7 Z" fill="#c9d0da"/>
<path d="M672.1 408.6 L676.2 404.1 L683.5 406.3 Z" fill="#c9d0da"/>
<rect x="617.0" y="427.5" width="8.5" height="30.7" fill="#3f5078"/>
<rect x="634.6" y="427.5" width="8.8" height="30.7" fill="#3f5078"/>
<rect x="617.0" y="427.5" width="8.5" height="8.0" fill="#53658b"/>
<rect x="634.6" y="427.5" width="8.8" height="8.0" fill="#53658b"/>
<rect x="613.4" y="457.4" width="72.3" height="7.0" fill="#5e6d90"/>
<rect x="655.0" y="459.3" width="3.9" height="3.4" fill="#8c99b4"/>
<rect x="663.0" y="459.3" width="3.9" height="3.4" fill="#8c99b4"/>
<rect x="671.1" y="459.3" width="3.9" height="3.4" fill="#8c99b4"/>
<rect x="678.7" y="459.3" width="3.9" height="3.4" fill="#8c99b4"/>
<rect x="608.7" y="464.0" width="79.9" height="3.9" fill="#3f5078"/>
<rect x="606.8" y="467.6" width="88.7" height="3.8" fill="#7f8dab" rx="1.2"/>
<rect x="691.1" y="469.1" width="4.4" height="5.1" fill="#7f8dab"/>
<rect x="601.7" y="473.5" width="100.8" height="24.1" fill="#8391af"/>
<rect x="601.7" y="471.7" width="16.1" height="7.6" fill="#8391af" rx="2"/>
<rect x="650.6" y="471.7" width="16.8" height="7.6" fill="#8391af" rx="2"/>
<rect x="668.4" y="471.7" width="16.5" height="7.6" fill="#8391af" rx="2"/>
<rect x="686.0" y="471.7" width="16.5" height="7.6" fill="#8391af" rx="2"/>
<rect x="622.4" y="473.5" width="24.2" height="24.1" fill="#8b98b5"/>
<rect x="625.8" y="476.4" width="19.0" height="2.9" fill="#64739a"/>
<path d="M610.4 471.3 L657.9 471.3 L654.3 473.8 L614.1 473.8 Z" fill="#3f5078"/>
<path d="M660.1 471.3 L675.5 471.3 L671.8 473.8 L663.8 473.8 Z" fill="#3f5078"/>
<path d="M677.6 471.3 L689.3 471.3 L687.9 473.8 L681.3 473.8 Z" fill="#3f5078"/>
<rect x="617.8" y="473.5" width="4.7" height="24.1" fill="#3f5078"/>
<rect x="646.7" y="473.5" width="3.9" height="24.1" fill="#3f5078"/>
<rect x="667.3" y="473.5" width="1.3" height="24.1" fill="#53658b"/>
<rect x="684.8" y="473.5" width="1.3" height="24.1" fill="#53658b"/>
</g>

<!-- CELLS -->
<g id="cells">
<path d="M158.7 665.8 C160.0 665.2 162.8 663.4 163.8 661.9 C164.7 660.3 164.6 658.3 164.3 656.2 C164.0 654.2 162.2 651.1 162.1 649.5 C162.0 647.8 163.2 646.4 163.8 646.3 C164.4 646.3 164.9 647.1 165.7 648.9 C166.4 650.8 167.3 655.5 168.3 657.4 C169.3 659.2 170.7 660.0 171.6 660.2 C172.5 660.4 173.1 659.9 173.5 658.5 C174.0 657.1 174.0 653.2 174.4 651.7 C174.9 650.3 175.7 649.6 176.1 649.7 C176.5 649.8 176.9 650.7 176.9 652.3 C176.9 653.9 176.0 657.5 176.1 659.0 C176.3 660.5 177.4 661.4 177.8 661.3 C178.2 661.2 178.1 659.0 178.7 658.5 C179.3 658.0 180.8 657.5 181.2 658.3 C181.6 659.0 180.6 661.9 181.0 663.0 C181.3 664.0 182.1 665.0 183.4 664.7 C184.8 664.3 187.2 662.4 189.0 660.7 C190.9 659.0 193.3 655.9 194.7 654.6 C196.1 653.2 196.8 652.7 197.5 652.9 C198.1 653.1 199.1 654.4 198.6 655.7 C198.1 657.0 196.3 658.9 194.7 660.7 C193.1 662.6 190.2 665.5 189.0 666.9 C187.9 668.3 187.4 669.0 187.9 669.2 C188.5 669.3 191.8 667.8 192.4 668.0 C193.1 668.3 191.9 669.9 191.9 670.6 C191.9 671.4 191.6 672.5 192.4 672.5 C193.3 672.6 195.9 670.8 196.9 670.8 C197.9 670.8 198.8 671.8 198.6 672.5 C198.4 673.3 197.0 674.6 195.8 675.3 C194.6 676.1 192.4 676.5 191.3 677.0 C190.2 677.6 189.6 676.9 189.3 678.7 C189.0 680.5 189.1 685.9 189.6 687.7 C190.1 689.5 190.8 688.6 192.4 689.4 C194.0 690.1 196.7 691.1 199.2 692.2 C201.6 693.3 205.3 695.0 207.0 696.1 C208.7 697.2 209.2 698.2 209.3 698.9 C209.4 699.7 208.9 700.8 207.6 700.6 C206.3 700.4 203.6 698.8 201.4 697.8 C199.3 696.8 196.6 694.8 194.7 694.4 C192.7 694.1 190.6 694.8 189.6 695.6 C188.6 696.3 188.0 697.4 188.5 698.9 C189.0 700.4 190.8 702.7 192.4 704.6 C194.0 706.4 197.3 708.9 198.0 710.2 C198.8 711.5 197.8 712.5 196.9 712.4 C196.0 712.3 194.2 711.3 192.4 709.6 C190.6 707.9 187.7 703.4 186.2 702.3 C184.7 701.2 183.5 701.7 183.4 702.9 C183.3 704.0 184.9 706.7 185.7 709.0 C186.4 711.4 187.8 715.2 187.9 716.9 C188.0 718.6 187.2 719.9 186.2 719.2 C185.3 718.4 183.5 714.9 182.3 712.4 C181.1 710.0 180.0 705.7 178.9 704.6 C177.9 703.4 176.9 704.8 176.1 705.7 C175.4 706.5 175.0 709.0 174.4 709.6 C173.9 710.3 173.2 710.3 172.8 709.6 C172.3 709.0 172.4 706.2 171.6 705.7 C170.9 705.1 169.1 705.3 168.3 706.2 C167.4 707.2 167.0 709.3 166.6 711.3 C166.1 713.3 166.0 716.8 165.4 718.0 C164.9 719.3 163.7 719.5 163.2 718.6 C162.7 717.7 162.6 714.6 162.6 712.4 C162.6 710.3 163.5 707.2 163.2 705.7 C162.9 704.2 161.9 703.4 161.0 703.4 C160.0 703.4 158.4 704.7 157.6 705.7 C156.7 706.6 156.5 708.7 155.9 709.0 C155.3 709.4 154.1 709.0 154.0 707.9 C153.9 706.8 155.4 704.0 155.3 702.3 C155.3 700.6 155.0 697.8 153.7 697.8 C152.3 697.8 149.8 700.8 147.5 702.3 C145.1 703.8 141.4 706.1 139.6 706.8 C137.8 707.5 137.3 706.8 136.8 706.2 C136.3 705.7 135.6 704.6 136.8 703.4 C138.0 702.2 141.8 700.4 144.1 698.9 C146.4 697.4 149.6 695.9 150.8 694.4 C152.1 692.9 152.3 691.0 151.4 689.9 C150.5 688.9 147.6 688.9 145.2 688.3 C142.9 687.6 139.5 686.9 137.4 686.0 C135.2 685.1 133.1 683.7 132.3 682.6 C131.6 681.6 132.0 680.1 132.9 679.8 C133.7 679.6 135.5 680.3 137.4 681.0 C139.2 681.6 142.1 683.2 144.1 683.8 C146.1 684.3 148.1 685.2 149.2 684.3 C150.2 683.5 150.7 679.7 150.3 678.7 C149.9 677.7 147.9 678.7 146.9 678.1 C145.9 677.6 144.4 676.1 144.1 675.3 C143.8 674.6 144.6 673.6 145.2 673.7 C145.9 673.7 147.1 675.6 148.0 675.9 C149.0 676.2 150.2 676.2 150.8 675.3 C151.5 674.5 152.2 672.6 152.0 670.8 C151.7 669.1 150.8 666.4 149.2 664.7 C147.5 662.9 143.9 661.1 141.9 660.2 C139.8 659.2 137.6 659.7 136.8 659.0 C136.0 658.4 136.0 656.7 136.8 656.2 C137.6 655.8 139.7 655.5 141.9 656.2 C144.0 657.0 147.4 659.2 149.7 660.7 C152.1 662.2 154.4 664.4 155.9 665.2 C157.4 666.1 157.4 666.3 158.7 665.8 Z" fill="#bcc5d3" stroke="#8d9ab3" stroke-width="1" stroke-linejoin="round"/>
<circle cx="169.9" cy="683.2" r="17.5" fill="url(#gA2)"/>
<path d="M162.6 684.3 C163.0 683.6 163.1 682.6 164.3 682.1 C165.5 681.5 168.3 681.8 169.9 681.0 C171.6 680.1 172.9 677.8 174.4 677.0 C175.9 676.3 177.6 676.0 178.9 676.5 C180.2 676.9 181.7 678.3 182.3 679.8 C182.9 681.3 182.7 683.6 182.3 685.4 C181.9 687.3 181.4 689.7 180.1 691.1 C178.7 692.5 176.3 693.5 174.4 693.9 C172.6 694.3 170.5 694.0 168.8 693.3 C167.1 692.7 165.4 691.1 164.3 689.9 C163.2 688.8 162.6 687.5 162.3 686.6 C162.0 685.6 162.3 685.1 162.6 684.3 Z" fill="#7d8ba7" stroke="#6d7b98" stroke-width="0.6"/>
<ellipse cx="175.6" cy="681.0" rx="3.5" ry="1.6" fill="#95a2ba" transform="rotate(-35 175.6 681.0)"/>
<path d="M180.1 703.4 L187.4 716.9" stroke="#8592ac" stroke-width="1.6" stroke-linecap="round"/>
<path d="M154.8 698.9 L155.3 707.4" stroke="#8592ac" stroke-width="1.4" stroke-linecap="round"/>
<rect x="189.6" y="677.4" width="25.3" height="2.0" rx="0.6" fill="#e1e6ed" stroke="#8d9ab3" stroke-width="0.6"/>
<rect x="189.8" y="677.6" width="10.2" height="1.6" rx="0.6" fill="#7482a0"/>
<rect x="190.2" y="682.9" width="12.8" height="4.6" rx="0.6" fill="#6f7d9a"/>
<rect x="191.3" y="684.3" width="10.1" height="0.7" rx="0.6" fill="#8f9cb5"/>
<path d="M202.8 681.2 L208.7 682.3 L208.4 685.4 L205.3 688.6 L202.8 688.1 Z" fill="#e1e6ed" stroke="#8d9ab3" stroke-width="0.6" stroke-linejoin="round"/>
<ellipse cx="236.0" cy="681.6" rx="26.2" ry="25" fill="url(#gT)" stroke="#808aa0" stroke-width="0.9"/>
<ellipse cx="235.7" cy="682.0" rx="11.8" ry="11.2" fill="#76829c" stroke="#6c7892" stroke-width="0.6" transform="rotate(-20 236.0 681.6)"/>
<path d="M236.5 673.6 Q242.5 675.1 244.5 681.1" stroke="#95a0b5" stroke-width="2" fill="none" stroke-linecap="round"/>
<path d="M242.0 662.1 Q253.0 666.6 257.0 676.6" stroke="#d3d8e1" stroke-width="2.2" fill="none" stroke-linecap="round" opacity="0.85"/>
<path d="M258.3 680.6 L258.3 685.6" stroke="#d3d8e1" stroke-width="1.6" fill="none" stroke-linecap="round" opacity="0.85"/>
<circle cx="159.8" cy="754.4" r="26.4" fill="url(#gNK)" stroke="#6b758c" stroke-width="0.9"/>
<ellipse cx="160.0" cy="754.1999999999999" rx="11.9" ry="11.5" fill="#4c5b7d" stroke="#445273" stroke-width="0.6" transform="rotate(25 159.8 754.4)"/>
<path d="M161.3 746.4 Q166.8 748.4 168.8 753.9" stroke="#76839f" stroke-width="2" fill="none" stroke-linecap="round"/>
<path d="M168.8 733.9 Q177.8 740.4 180.8 751.4" stroke="#cfd4de" stroke-width="2.2" fill="none" stroke-linecap="round" opacity="0.85"/>
<path d="M158.8 732.9 L163.8 732.6" stroke="#cfd4de" stroke-width="1.8" fill="none" stroke-linecap="round" opacity="0.85"/>
<ellipse cx="246.8" cy="751.3" rx="25.1" ry="26.4" fill="url(#gB)" stroke="#7f899f" stroke-width="0.9"/>
<circle cx="245.60000000000002" cy="750.5999999999999" r="12" fill="#a5afc1" stroke="#99a3b7" stroke-width="0.6"/>
<path d="M244.8 742.3 Q250.8 742.8 253.8 748.3" stroke="#bcc4d1" stroke-width="2.4" fill="none" stroke-linecap="round"/>
<path d="M247.8 729.3 Q259.8 732.3 264.8 741.3" stroke="#e3e7ed" stroke-width="2.4" fill="none" stroke-linecap="round" opacity="0.8"/>
<g transform="translate(232.8 733.0) rotate(-129)" fill="#6f7b96"><rect x="0" y="-1.8" width="7.4" height="3.6" rx="0.8"/><rect x="8.6" y="-1.75" width="7" height="3.5" rx="0.9" transform="rotate(-45 7.4 0)"/><rect x="8.6" y="-1.75" width="7" height="3.5" rx="0.9" transform="rotate(45 7.4 0)"/></g>
<g transform="translate(256.2 729.9) rotate(-65)" fill="#6f7b96"><rect x="0" y="-1.8" width="7.4" height="3.6" rx="0.8"/><rect x="8.6" y="-1.75" width="7" height="3.5" rx="0.9" transform="rotate(-45 7.4 0)"/><rect x="8.6" y="-1.75" width="7" height="3.5" rx="0.9" transform="rotate(45 7.4 0)"/></g>
<g transform="translate(268.8 747.4) rotate(-9.5)" fill="#6f7b96"><rect x="0" y="-1.8" width="7.4" height="3.6" rx="0.8"/><rect x="8.6" y="-1.75" width="7" height="3.5" rx="0.9" transform="rotate(-45 7.4 0)"/><rect x="8.6" y="-1.75" width="7" height="3.5" rx="0.9" transform="rotate(45 7.4 0)"/></g>
<g transform="translate(258.1 771.7) rotate(59.6)" fill="#6f7b96"><rect x="0" y="-1.8" width="7.4" height="3.6" rx="0.8"/><rect x="8.6" y="-1.75" width="7" height="3.5" rx="0.9" transform="rotate(-45 7.4 0)"/><rect x="8.6" y="-1.75" width="7" height="3.5" rx="0.9" transform="rotate(45 7.4 0)"/></g>
<g transform="translate(235.4 771.6) rotate(120.6)" fill="#6f7b96"><rect x="0" y="-1.8" width="7.4" height="3.6" rx="0.8"/><rect x="8.6" y="-1.75" width="7" height="3.5" rx="0.9" transform="rotate(-45 7.4 0)"/><rect x="8.6" y="-1.75" width="7" height="3.5" rx="0.9" transform="rotate(45 7.4 0)"/></g>
<g transform="translate(224.5 752.1) rotate(178)" fill="#6f7b96"><rect x="0" y="-1.8" width="7.4" height="3.6" rx="0.8"/><rect x="8.6" y="-1.75" width="7" height="3.5" rx="0.9" transform="rotate(-45 7.4 0)"/><rect x="8.6" y="-1.75" width="7" height="3.5" rx="0.9" transform="rotate(45 7.4 0)"/></g>
</g>

<!-- ARROWS -->
<g class="arr" marker-end="url(#ah)">
<path d="M132.1 592.0 C131.0 586.7 127.3 570.3 125.5 560.0 C123.7 549.7 122.3 543.2 121.2 530.4 C120.1 517.6 119.0 496.6 118.9 483.2 C118.8 469.8 119.5 463.9 120.5 450.0 C121.5 436.1 122.6 414.7 125.2 400.0 C127.8 385.3 132.1 373.4 136.3 361.6 C140.5 349.8 144.8 340.0 150.5 329.2 C156.2 318.4 164.0 306.0 170.7 296.9 C177.4 287.8 184.2 281.0 190.9 274.6 C197.6 268.2 204.3 263.1 211.1 258.4 C217.8 253.7 224.7 249.8 231.4 246.3 C238.2 242.8 244.9 239.7 251.6 237.2 C258.3 234.7 265.4 232.7 271.8 231.1 C278.2 229.5 281.8 228.9 290.0 227.7 C298.2 226.5 312.8 224.6 321.1 223.7 C329.5 222.8 334.0 222.4 340.1 222.1 C346.2 221.8 350.9 221.7 357.6 221.7 C364.3 221.7 376.6 222.1 380.4 222.2"/>
<path d="M283 267.3 C308 253 343 243.8 381.3 243.3"/>
<path d="M210.4 422.7 C211 400 213.5 380 219.2 361.6 C222 351 225.5 341 229.4 331.8"/>
<path d="M381 323.8 L317 301.6"/>
<path d="M313.4 310.3 L379 332.4"/>
<path d="M371 387.6 L256 443.3"/>
<path d="M260.8 452.8 L374.4 397"/>
<path d="M368.7 486 L249.2 492.7"/>
<path d="M249.6 502.7 L369 496.5"/>
<path d="M380 529.2 L278.8 601.4"/>
<path d="M540.3 246.5 Q500 236.2 463.4 230.3"/>
<path d="M625.6 389.8 C600 330 540 270 462 240"/>
<path d="M460.2 453 C478 428 500 390 507 364 C512 345 514 325 511.5 305 C508 280 490 262 460.8 249.8"/>
<path d="M461.2 328.2 C474 322 483 310 483.8 296 C484.5 283 476 270 460.4 260.3"/>
<path d="M572.5 487.5 L472.3 487.5"/>
</g>

<!-- LABELS -->
<g id="labels">
<text transform="translate(140.30 243.3) scale(1.0187 1)">Cell</text>
<text transform="translate(115.65 262.6) scale(1.0499 1)">migration</text>
<text transform="translate(209.16 294.1) scale(1.0420 1)">Microbial</text>
<text transform="translate(197.75 313.4) scale(1.0495 1)">metabolites</text>
<text transform="translate(240.10 388.5) scale(1.0346 1)">Colonization</text>
<text transform="translate(178.08 444.9) scale(1.0184 1)">Host</text>
<text transform="translate(146.85 464.4) scale(1.0515 1)">microbiome</text>
<text transform="translate(167.26 589.8) scale(1.0378 1)">Immune</text>
<text transform="translate(147.10 609.4) scale(1.0350 1)">cell licensing</text>
<text transform="translate(158.80 640.0) scale(1.0053 1)">APC–T cell</text>
<text transform="translate(127.55 810.4) scale(1.0542 1)">NK cell</text>
<text transform="translate(224.94 810.4) scale(1.0579 1)">B cell</text>
<text transform="translate(536.40 207.4) scale(1.0404 1)">Astrocyte</text>
<text transform="translate(628.86 207.4) scale(1.0391 1)">Microglia</text>
<text transform="translate(681.70 238.9) scale(0.9709 1)">SCFA</text>
<text transform="translate(681.70 258.5) scale(1.0252 1)">Trp metabolites</text>
<text transform="translate(681.10 277.9) scale(0.9951 1)">AHR</text>
<text transform="translate(520.89 344.9) scale(1.0140 1)">Neural</text>
<text transform="translate(518.50 364.4) scale(1.0458 1)">circuits</text>
<text transform="translate(590.08 519.5) scale(1.0165 1)">Environmental</text>
<text transform="translate(609.00 538.7) scale(1.0277 1)">chemicals</text>
</g>
</svg>
</body>
</html>
